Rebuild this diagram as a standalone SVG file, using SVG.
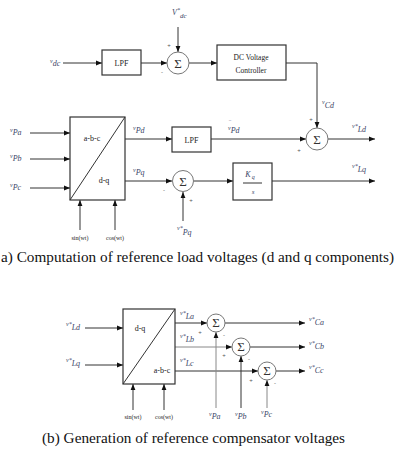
<svg xmlns="http://www.w3.org/2000/svg" width="396" height="449" viewBox="0 0 396 449">
<style>
.ln{stroke:#333;stroke-width:1;fill:none}
.lg{stroke:#888;stroke-width:1;fill:none}
.bx{stroke:#333;stroke-width:1.2;fill:#fff}
.cc{stroke:#777;stroke-width:1;fill:#fff}
.t{font-family:"Liberation Serif",serif;fill:#222}
.lbl{font-family:"Liberation Serif",serif;font-style:italic;fill:#3a4466}
.sg{font-family:"Liberation Serif",serif;fill:#333;font-size:13px;text-anchor:middle}
.pm{font-family:"Liberation Sans",sans-serif;fill:#555;font-size:6px;text-anchor:middle}
.cap{font-family:"Liberation Serif",serif;fill:#111;font-size:14px}
</style>
<defs>
<marker id="ah" viewBox="0 0 10 10" refX="10" refY="5" markerWidth="6" markerHeight="6" markerUnits="userSpaceOnUse" orient="auto"><path d="M0,1 L10,5 L0,9 z" fill="#111"/></marker>
</defs>
<rect width="396" height="449" fill="#fff"/>

<g id="connectors">
<path class="ln" d="M63,63 H102" marker-end="url(#ah)"/>
<path class="ln" d="M141,63 H167" marker-end="url(#ah)"/>
<path class="ln" d="M178,27 V52" marker-end="url(#ah)"/>
<path class="ln" d="M189,63 H217" marker-end="url(#ah)"/>
<path class="ln" d="M286,63 H317 V128" marker-end="url(#ah)"/>
<path class="ln" d="M30,133 H70" marker-end="url(#ah)"/>
<path class="ln" d="M30,159 H70" marker-end="url(#ah)"/>
<path class="ln" d="M30,188 H70" marker-end="url(#ah)"/>
<path class="ln" d="M80,230 V200" marker-end="url(#ah)"/>
<path class="ln" d="M115,230 V200" marker-end="url(#ah)"/>
<path class="ln" d="M125,139 H172" marker-end="url(#ah)"/>
<path class="ln" d="M211,139 H306" marker-end="url(#ah)"/>
<path class="ln" d="M328,139 H375" marker-end="url(#ah)"/>
<path class="ln" d="M125,181 H172" marker-end="url(#ah)"/>
<path class="ln" d="M183,221 V192" marker-end="url(#ah)"/>
<path class="ln" d="M194,181 H233" marker-end="url(#ah)"/>
<path class="ln" d="M272,181 H375" marker-end="url(#ah)"/>

<path class="ln" d="M85,328 H123" marker-end="url(#ah)"/>
<path class="ln" d="M85,365 H123" marker-end="url(#ah)"/>
<path class="ln" d="M133,410 V384" marker-end="url(#ah)"/>
<path class="ln" d="M164,410 V384" marker-end="url(#ah)"/>
<path class="ln" d="M175,323 H207" marker-end="url(#ah)"/>
<path class="lg" d="M175,347 H232" marker-end="url(#ah)"/>
<path class="ln" d="M175,371 H258" marker-end="url(#ah)"/>
<path class="ln" d="M225,323 H305" marker-end="url(#ah)"/>
<path class="ln" d="M250,347 H305" marker-end="url(#ah)"/>
<path class="ln" d="M276,371 H305" marker-end="url(#ah)"/>
<path class="lg" d="M216,408 V332" marker-end="url(#ah)"/>
<path class="ln" d="M241,408 V356" marker-end="url(#ah)"/>
<path class="lg" d="M267,408 V380" marker-end="url(#ah)"/>
</g>

<g id="lpf1"><rect class="bx" x="102" y="50" width="39" height="25"/><text class="t" x="121.5" y="65.5" font-size="8" text-anchor="middle">LPF</text></g>
<g id="sum1"><circle class="cc" cx="178" cy="63" r="11"/><text class="sg" x="178" y="67.5">Σ</text><text class="pm" x="169" y="47">+</text><text class="pm" x="162" y="74">-</text></g>
<g id="dcvc"><rect class="bx" x="217" y="45" width="69" height="35"/><text class="t" x="251" y="60" font-size="7.5" text-anchor="middle">DC Voltage</text><text class="t" x="251" y="73" font-size="7.5" text-anchor="middle">Controller</text></g>
<g id="sum2"><circle class="cc" cx="317" cy="139" r="11"/><text class="sg" x="317" y="143.5">Σ</text><text class="pm" x="311" y="121">+</text><text class="pm" x="299" y="152">+</text></g>
<g id="abc2dq"><rect class="bx" x="70" y="117" width="55" height="83"/><path class="ln" d="M70,200 L125,117"/><text class="t" x="92" y="141" font-size="8" text-anchor="middle">a-b-c</text><text class="t" x="104" y="183" font-size="8" text-anchor="middle">d-q</text></g>
<g id="lpf2"><rect class="bx" x="172" y="127" width="39" height="25"/><text class="t" x="191.5" y="142.5" font-size="8" text-anchor="middle">LPF</text></g>
<g id="sum3"><circle class="cc" cx="183" cy="181" r="10.5"/><text class="sg" x="183" y="185.5">Σ</text><text class="pm" x="191" y="202">+</text><text class="pm" x="164" y="192">-</text></g>
<g id="kq"><rect class="bx" x="233" y="163" width="39" height="37"/><text class="lbl" x="250" y="177" font-size="8" text-anchor="middle">K<tspan font-size="6" dx="1" dy="2">q</tspan></text><path class="ln" d="M243,183 H262"/><text class="lbl" x="253" y="194" font-size="7" text-anchor="middle">s</text></g>

<g id="dq2abc"><rect class="bx" x="123" y="309" width="52" height="75"/><path class="ln" d="M123,384 L175,309"/><text class="t" x="140" y="331" font-size="8" text-anchor="middle">d-q</text><text class="t" x="162" y="373" font-size="8" text-anchor="middle">a-b-c</text></g>
<g id="suma"><circle class="cc" cx="216" cy="323" r="9"/><text class="sg" x="216" y="327" font-size="11">Σ</text><text class="pm" x="200" y="334">+</text><text class="pm" x="224" y="337">-</text></g>
<g id="sumb"><circle class="cc" cx="241" cy="347" r="9"/><text class="sg" x="241" y="351" font-size="11">Σ</text><text class="pm" x="224" y="357">+</text><text class="pm" x="249" y="361">-</text></g>
<g id="sumc"><circle class="cc" cx="267" cy="371" r="9"/><text class="sg" x="267" y="375" font-size="11">Σ</text><text class="pm" x="251" y="382">+</text><text class="pm" x="275" y="385">-</text></g>

<g id="labels">
<text class="lbl" x="50" y="63" font-size="6">v<tspan font-size="8" dy="3">dc</tspan></text>
<text class="lbl" x="172" y="15" font-size="8">V<tspan font-size="6" dy="-3">*</tspan><tspan font-size="7" dy="6">dc</tspan></text>
<text class="lbl" x="322" y="104" font-size="6">v<tspan font-size="8" dy="4">Cd</tspan></text>
<text class="lbl" x="352" y="128" font-size="6">v*<tspan font-size="8" dy="4">Ld</tspan></text>
<text class="lbl" x="352" y="168" font-size="6">v*<tspan font-size="8" dy="4">Lq</tspan></text>
<text class="lbl" x="10" y="132" font-size="6">v<tspan font-size="8" dy="3">Pa</tspan></text>
<text class="lbl" x="10" y="158" font-size="6">v<tspan font-size="8" dy="3">Pb</tspan></text>
<text class="lbl" x="10" y="187" font-size="6">v<tspan font-size="8" dy="3">Pc</tspan></text>
<text class="lbl" x="133" y="130" font-size="6">v<tspan font-size="8" dy="3">Pd</tspan></text>
<text class="lbl" x="229" y="125" font-size="6">‾</text>
<text class="lbl" x="228" y="130" font-size="6">v<tspan font-size="8" dy="3">Pd</tspan></text>
<text class="lbl" x="133" y="172" font-size="6">v<tspan font-size="8" dy="3">Pq</tspan></text>
<text class="lbl" x="177" y="230" font-size="6">v*<tspan font-size="8" dy="5">Pq</tspan></text>
<text class="t" x="80" y="240" font-size="6" text-anchor="middle">sin(wt)</text>
<text class="t" x="115" y="240" font-size="6" text-anchor="middle">cos(wt)</text>

<text class="lbl" x="66" y="326" font-size="6">v*<tspan font-size="8" dy="4">Ld</tspan></text>
<text class="lbl" x="66" y="362" font-size="6">v*<tspan font-size="8" dy="4">Lq</tspan></text>
<text class="lbl" x="180" y="315" font-size="6">v*<tspan font-size="8" dy="4">La</tspan></text>
<text class="lbl" x="180" y="338" font-size="6">v*<tspan font-size="8" dy="4">Lb</tspan></text>
<text class="lbl" x="180" y="362" font-size="6">v*<tspan font-size="8" dy="4">Lc</tspan></text>
<text class="lbl" x="309" y="321" font-size="6">v*<tspan font-size="8" dy="4">Ca</tspan></text>
<text class="lbl" x="309" y="345" font-size="6">v*<tspan font-size="8" dy="4">Cb</tspan></text>
<text class="lbl" x="309" y="369" font-size="6">v*<tspan font-size="8" dy="4">Cc</tspan></text>
<text class="lbl" x="209" y="416" font-size="6">v<tspan font-size="8" dy="3">Pa</tspan></text>
<text class="lbl" x="235" y="416" font-size="6">v<tspan font-size="8" dy="3">Pb</tspan></text>
<text class="lbl" x="261" y="414" font-size="6">v<tspan font-size="8" dy="3">Pc</tspan></text>
<text class="t" x="133" y="419" font-size="6" text-anchor="middle">sin(wt)</text>
<text class="t" x="164" y="419" font-size="6" text-anchor="middle">cos(wt)</text>
</g>

<text class="cap" x="1" y="262" textLength="393" lengthAdjust="spacingAndGlyphs">a) Computation of reference load voltages (d and q components)</text>
<text class="cap" x="42" y="443" textLength="303" lengthAdjust="spacingAndGlyphs">(b) Generation of reference compensator voltages</text>
</svg>
